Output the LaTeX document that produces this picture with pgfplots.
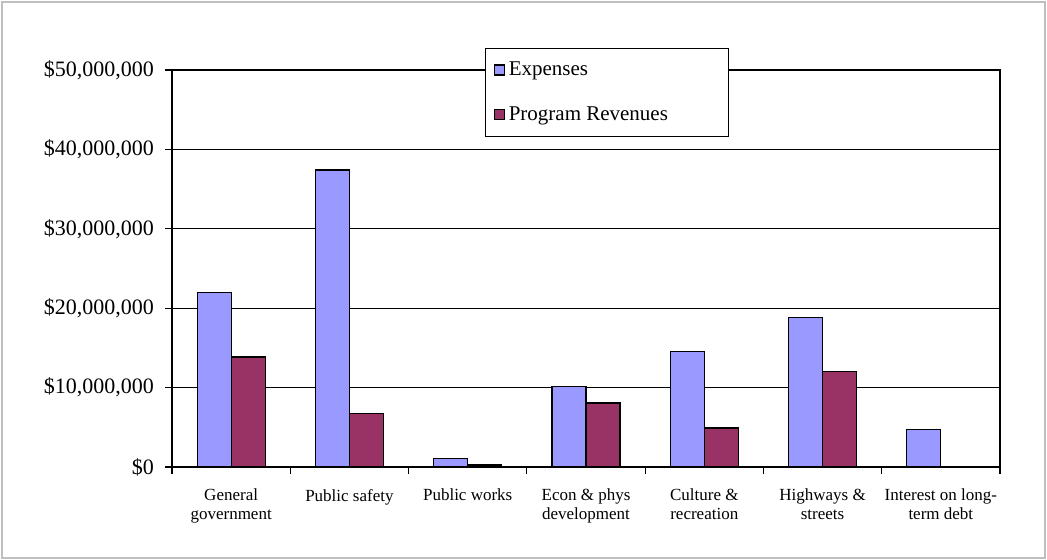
\documentclass[border=0pt]{standalone}
\usepackage{fontspec}
\setmainfont{Liberation Serif}
\usepackage{pgfplots}
\pgfplotsset{compat=1.18}
\definecolor{expc}{HTML}{9999FF}
\definecolor{revc}{HTML}{993366}
\pgfplotsset{sqlegend/.style={legend image code/.code={\draw[##1,draw=black,line width=0.6pt] (0pt,-2.5pt) rectangle (5pt,2.5pt);}}}
\begin{document}
\begin{tikzpicture}
\useasboundingbox (0,0) rectangle (523.5pt,280pt);
\draw[gray!50, line width=0.8pt] (1pt,1pt) rectangle (522.5pt,279pt);
\begin{axis}[
  at={(86pt,46.5pt)}, anchor=south west,
  scale only axis, width=414pt, height=198.5pt,
  ybar=0pt, bar width=17pt,
  xmin=-0.5, xmax=6.5, ymin=0, ymax=50000000,
  xtick={0,...,6},
  xticklabels={General\\government, Public safety, Public works, Econ \& phys\\development, Culture \&\\recreation, Highways \&\\streets, Interest on long-\\term debt},
  xticklabel style={align=center, font=\fontsize{8.5}{9.5}\selectfont, yshift=-4pt},
  major x tick style={draw=none},
  minor xtick={-0.5,0.5,...,6.5},
  xtick pos=bottom, ytick pos=left,
  tick align=outside,
  major tick length=3.5pt, minor tick length=3.5pt,
  ytick={0,10000000,20000000,30000000,40000000,50000000},
  scaled y ticks=false,
  yticklabels={\$0,{\$10,000,000},{\$20,000,000},{\$30,000,000},{\$40,000,000},{\$50,000,000}},
  yticklabel style={font=\fontsize{11}{13}\selectfont, xshift=-2pt},
  ymajorgrids,
  grid style={black, line width=0.6pt},
  axis line style={black, line width=0.8pt},
  tick style={black, line width=0.6pt},
  legend style={at={(0.378,1.0554)}, anchor=north west, draw=black, fill=white, line width=0.6pt,
    font=\fontsize{10.5}{12}\selectfont, row sep=10pt, inner xsep=4pt, inner ysep=4.5pt},
  legend cell align=left,
]
\addplot[fill=expc, draw=black, line width=0.6pt, sqlegend] coordinates {
  (0,22000000) (1,37400000) (2,1100000) (3,10100000) (4,14500000) (5,18800000) (6,4700000)};
\addplot[fill=revc, draw=black, line width=0.6pt, sqlegend] coordinates {
  (0,13850000) (1,6700000) (2,250000) (3,8050000) (4,4900000) (5,12000000) (6,0)};
\addlegendentry{\makebox[104pt][l]{Expenses}}
\addlegendentry{\makebox[104pt][l]{Program Revenues}}
\end{axis}
\end{tikzpicture}
\end{document}
